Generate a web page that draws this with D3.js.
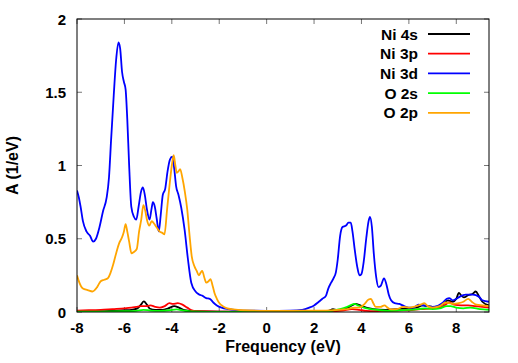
<!DOCTYPE html>
<html>
<head>
<meta charset="utf-8">
<script src="https://cdn.jsdelivr.net/npm/d3@7"></script>
<style>
  body { margin: 0; background: #fff; }
  text { font-family: "Liberation Sans", Arial, sans-serif; font-weight: bold; }
</style>
</head>
<body>
<div id="chart"></div>
<script>
// series values, [frequency eV, A 1/eV]
var ni4s = [[-8,0.005],[-7,0.005],[-6.5,0.008],[-6.0,0.012],[-5.7,0.015],[-5.45,0.025],[-5.3,0.05],[-5.18,0.072],[-5.05,0.05],[-4.92,0.022],[-4.7,0.015],[-4.4,0.015],[-4.15,0.025],[-3.9,0.04],[-3.7,0.03],[-3.45,0.012],[-3.0,0.005],[-2,0.003],[0,0.002],[2,0.003],[2.6,0.008],[2.8,0.02],[2.95,0.012],[3.2,0.015],[3.5,0.035],[3.75,0.055],[3.95,0.045],[4.2,0.03],[4.5,0.02],[5,0.015],[5.5,0.02],[6,0.025],[6.3,0.03],[6.6,0.045],[6.8,0.04],[7.1,0.035],[7.4,0.05],[7.65,0.08],[7.85,0.07],[8.0,0.09],[8.11,0.13],[8.22,0.11],[8.32,0.1],[8.5,0.115],[8.7,0.125],[8.82,0.14],[8.95,0.11],[9.1,0.07],[9.38,0.045]];

var ni3p = [[-8,0.01],[-7.5,0.012],[-7,0.015],[-6.5,0.02],[-6.0,0.025],[-5.7,0.03],[-5.5,0.035],[-5.3,0.04],[-5.1,0.04],[-4.9,0.045],[-4.7,0.035],[-4.5,0.03],[-4.3,0.04],[-4.1,0.06],[-3.95,0.055],[-3.75,0.06],[-3.55,0.05],[-3.35,0.03],[-3.15,0.012],[-2.9,0.005],[-2,0.002],[0,0.002],[2,0.002],[2.8,0.005],[3.2,0.01],[3.6,0.02],[3.9,0.015],[4.2,0.008],[4.6,0.006],[5,0.008],[5.5,0.01],[6,0.012],[6.5,0.02],[7,0.025],[7.4,0.035],[7.7,0.065],[7.9,0.05],[8.2,0.045],[8.5,0.045],[8.8,0.04],[9.1,0.035],[9.38,0.03]];

var ni3d = [[-8,0.83],[-7.92,0.78],[-7.85,0.72],[-7.75,0.62],[-7.6,0.55],[-7.45,0.52],[-7.32,0.48],[-7.2,0.50],[-7.05,0.58],[-6.9,0.69],[-6.75,0.78],[-6.65,0.92],[-6.56,1.18],[-6.45,1.48],[-6.35,1.72],[-6.25,1.84],[-6.18,1.80],[-6.1,1.64],[-6.02,1.57],[-5.95,1.52],[-5.88,1.32],[-5.8,1.00],[-5.71,0.72],[-5.6,0.65],[-5.5,0.63],[-5.4,0.72],[-5.3,0.82],[-5.22,0.85],[-5.14,0.80],[-5.05,0.70],[-4.94,0.63],[-4.86,0.70],[-4.8,0.75],[-4.72,0.72],[-4.64,0.64],[-4.55,0.55],[-4.47,0.66],[-4.38,0.80],[-4.28,0.84],[-4.18,0.96],[-4.08,1.04],[-3.98,1.06],[-3.9,0.98],[-3.82,0.86],[-3.72,0.80],[-3.6,0.71],[-3.46,0.56],[-3.32,0.36],[-3.18,0.20],[-3.0,0.14],[-2.85,0.12],[-2.7,0.11],[-2.55,0.095],[-2.4,0.09],[-2.25,0.065],[-2.1,0.045],[-1.9,0.03],[-1.6,0.02],[-1.0,0.01],[0,0.008],[1.0,0.01],[1.5,0.015],[1.8,0.03],[2.0,0.045],[2.2,0.07],[2.35,0.09],[2.5,0.11],[2.6,0.16],[2.72,0.2],[2.82,0.23],[2.92,0.27],[3.0,0.36],[3.1,0.52],[3.2,0.58],[3.35,0.59],[3.45,0.61],[3.55,0.61],[3.62,0.55],[3.72,0.42],[3.82,0.31],[3.92,0.25],[4.0,0.26],[4.1,0.35],[4.2,0.5],[4.3,0.62],[4.36,0.65],[4.44,0.58],[4.52,0.40],[4.62,0.24],[4.72,0.17],[4.82,0.18],[4.95,0.23],[5.05,0.19],[5.15,0.12],[5.25,0.08],[5.4,0.06],[5.6,0.055],[5.8,0.04],[6.0,0.03],[6.2,0.03],[6.4,0.05],[6.6,0.045],[6.8,0.04],[7.0,0.035],[7.2,0.04],[7.4,0.06],[7.6,0.09],[7.7,0.095],[7.85,0.08],[8.0,0.09],[8.15,0.105],[8.4,0.118],[8.7,0.118],[8.95,0.105],[9.1,0.08],[9.38,0.07]];

var o2s = [[-8,0.003],[-7,0.003],[-6,0.005],[-5.5,0.008],[-5.2,0.015],[-4.9,0.01],[-4.5,0.008],[-4.1,0.012],[-3.8,0.018],[-3.5,0.01],[-3.2,0.004],[-2.5,0.001],[0,0.001],[2.5,0.002],[2.8,0.01],[3.1,0.02],[3.4,0.035],[3.7,0.055],[3.85,0.045],[4.1,0.03],[4.4,0.02],[4.8,0.012],[5.2,0.008],[5.6,0.012],[6,0.015],[6.4,0.02],[6.7,0.025],[7.0,0.02],[7.3,0.025],[7.6,0.04],[7.75,0.04],[8.0,0.03],[8.3,0.025],[8.6,0.03],[9.0,0.02],[9.38,0.015]];

var o2p = [[-8,0.25],[-7.9,0.2],[-7.75,0.16],[-7.55,0.15],[-7.35,0.14],[-7.15,0.17],[-7.0,0.21],[-6.85,0.22],[-6.7,0.23],[-6.58,0.27],[-6.48,0.32],[-6.35,0.40],[-6.22,0.47],[-6.1,0.51],[-6.02,0.55],[-5.95,0.60],[-5.88,0.55],[-5.8,0.48],[-5.7,0.40],[-5.6,0.41],[-5.48,0.43],[-5.38,0.55],[-5.29,0.63],[-5.2,0.73],[-5.12,0.69],[-5.05,0.63],[-4.95,0.59],[-4.85,0.62],[-4.78,0.61],[-4.65,0.58],[-4.52,0.55],[-4.4,0.54],[-4.31,0.53],[-4.2,0.70],[-4.1,0.86],[-4.0,1.0],[-3.92,1.07],[-3.85,1.0],[-3.79,0.95],[-3.72,0.96],[-3.65,0.975],[-3.56,0.92],[-3.45,0.82],[-3.35,0.70],[-3.25,0.52],[-3.16,0.38],[-3.04,0.31],[-2.95,0.28],[-2.86,0.25],[-2.78,0.27],[-2.72,0.28],[-2.62,0.23],[-2.55,0.20],[-2.45,0.21],[-2.37,0.225],[-2.28,0.18],[-2.2,0.13],[-2.1,0.09],[-1.99,0.06],[-1.85,0.04],[-1.7,0.027],[-1.4,0.018],[-1.0,0.012],[0,0.008],[1,0.008],[2,0.01],[2.5,0.01],[3,0.015],[3.4,0.02],[3.7,0.03],[3.9,0.03],[4.1,0.05],[4.3,0.085],[4.4,0.09],[4.5,0.06],[4.6,0.035],[4.8,0.035],[4.97,0.045],[5.1,0.03],[5.25,0.018],[5.5,0.02],[5.75,0.035],[6.0,0.03],[6.3,0.04],[6.5,0.05],[6.65,0.06],[6.8,0.04],[7.0,0.03],[7.3,0.04],[7.55,0.065],[7.7,0.06],[7.9,0.055],[8.1,0.06],[8.3,0.07],[8.5,0.09],[8.65,0.07],[8.85,0.05],[9.1,0.045],[9.38,0.04]];

var seriesNames = ["Ni 4s", "Ni 3p", "Ni 3d", "O 2s", "O 2p"];
var seriesColors = ["#000000", "#ff0000", "#0000ff", "#00ff00", "#ffa500"];
var seriesData = [ni4s, ni3p, ni3d, o2s, o2p];
var xTicks = [-8, -6, -4, -2, 0, 2, 4, 6, 8];
var yTicks = [0, 0.5, 1, 1.5, 2];

// set the dimensions and margins of the graph
var margin = { top: 19, right: 29, bottom: 51, left: 77 },
    width = 518 - margin.left - margin.right,
    height = 363 - margin.top - margin.bottom;

var svg = d3.select("#chart")
    .append("svg")
    .attr("width", 518)
    .attr("height", 363)
    .append("g")
    .attr("transform", "translate(" + margin.left + "," + margin.top + ")");

var x = d3.scaleLinear().domain([-8, 9.38]).range([0, width]);
var y = d3.scaleLinear().domain([0, 2]).range([height, 0]);

svg.append("clipPath").attr("id", "clip")
    .append("rect").attr("width", width).attr("height", height);

// inward ticks on all four sides
var tickLen = 5;
xTicks.forEach(function (t) {
    svg.append("line").attr("x1", x(t)).attr("x2", x(t))
        .attr("y1", height).attr("y2", height - tickLen)
        .attr("stroke", "#777").attr("stroke-width", 1);
    svg.append("line").attr("x1", x(t)).attr("x2", x(t))
        .attr("y1", 0).attr("y2", tickLen)
        .attr("stroke", "#777").attr("stroke-width", 1);
    svg.append("text")
        .attr("x", x(t)).attr("y", height + 21)
        .attr("text-anchor", "middle")
        .style("font-size", "15px")
        .text(t);
});
yTicks.forEach(function (t) {
    svg.append("line").attr("x1", 0).attr("x2", tickLen)
        .attr("y1", y(t)).attr("y2", y(t))
        .attr("stroke", "#777").attr("stroke-width", 1);
    svg.append("line").attr("x1", width).attr("x2", width - tickLen)
        .attr("y1", y(t)).attr("y2", y(t))
        .attr("stroke", "#777").attr("stroke-width", 1);
    svg.append("text")
        .attr("x", -11).attr("y", y(t) + 5.5)
        .attr("text-anchor", "end")
        .style("font-size", "15px")
        .text(t);
});

var line = d3.line()
    .x(function (d) { return x(d[0]); })
    .y(function (d) { return y(d[1]); })
    .curve(d3.curveMonotoneX);

seriesData.forEach(function (s, i) {
    svg.append("path")
        .datum(s)
        .attr("clip-path", "url(#clip)")
        .attr("fill", "none")
        .attr("stroke", seriesColors[i])
        .attr("stroke-width", 1.8)
        .attr("stroke-linejoin", "round")
        .attr("d", line);
});

// frame
svg.append("rect")
    .attr("width", width).attr("height", height)
    .attr("fill", "none").attr("stroke", "#000").attr("stroke-width", 1);

// legend
seriesNames.forEach(function (n, i) {
    var ly = 15 + i * 19.7;
    svg.append("text")
        .attr("x", 341).attr("y", ly + 5.5)
        .attr("text-anchor", "end")
        .style("font-size", "15.5px")
        .text(n);
    svg.append("line")
        .attr("x1", 351).attr("x2", 393)
        .attr("y1", ly).attr("y2", ly)
        .attr("stroke", seriesColors[i]).attr("stroke-width", 1.8);
});

// axis titles
svg.append("text")
    .attr("x", width / 2).attr("y", height + 40)
    .attr("text-anchor", "middle")
    .style("font-size", "16px")
    .text("Frequency (eV)");

svg.append("text")
    .attr("transform", "translate(" + (-59) + "," + (height / 2) + ") rotate(-90)")
    .attr("text-anchor", "middle")
    .style("font-size", "16px")
    .text("A (1/eV)");
</script>
</body>
</html>
